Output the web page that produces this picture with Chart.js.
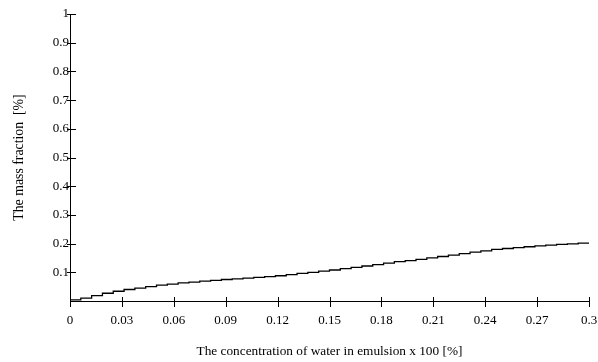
<!DOCTYPE html>
<html>
<head>
<meta charset="utf-8">
<script src="https://cdn.jsdelivr.net/npm/chart.js@4/dist/chart.umd.min.js"></script>
<style>
  html, body { margin: 0; padding: 0; background: #fff; }
  canvas { display: block; }
</style>
</head>
<body>
<canvas id="massChart" width="598" height="362"></canvas>
<script>
// water concentration (x) and mass fraction (y)
const waterConc = [
  0, 0.00625, 0.0125, 0.01875, 0.025, 0.03125, 0.0375, 0.04375, 0.05, 0.05625,
  0.0625, 0.06875, 0.075, 0.08125, 0.0875, 0.09375, 0.1, 0.10625, 0.1125, 0.11875,
  0.125, 0.13125, 0.1375, 0.14375, 0.15, 0.15625, 0.1625, 0.16875, 0.175, 0.18125,
  0.1875, 0.19375, 0.2, 0.20625, 0.2125, 0.21875, 0.225, 0.23125, 0.2375, 0.24375,
  0.25, 0.25625, 0.2625, 0.26875, 0.275, 0.28125, 0.2875, 0.29375, 0.3
];
const massFraction = [
  0.000, 0.004, 0.010, 0.019, 0.027, 0.034, 0.040, 0.045, 0.050, 0.055,
  0.059, 0.063, 0.066, 0.069, 0.072, 0.075, 0.077, 0.080, 0.082, 0.085,
  0.088, 0.092, 0.096, 0.100, 0.104, 0.108, 0.113, 0.117, 0.122, 0.127,
  0.132, 0.137, 0.141, 0.145, 0.150, 0.155, 0.160, 0.165, 0.170, 0.175,
  0.180, 0.183, 0.186, 0.189, 0.192, 0.195, 0.197, 0.199, 0.202
];
const xTitle = 'The concentration of water in emulsion x 100 [%]';
const yTitle = 'The mass fraction  [%]';

const serif = 'Liberation Serif, Times New Roman, serif';

// tick marks that cross the axis line, like the original plot
const crossTicks = {
  id: 'crossTicks',
  afterDraw(chart) {
    const ctx = chart.ctx;
    const xs = chart.scales.x, ys = chart.scales.y;
    ctx.save();
    ctx.strokeStyle = '#000';
    ctx.lineWidth = 1;
    ctx.beginPath();
    xs.ticks.forEach(t => {
      const px = Math.round(xs.getPixelForValue(t.value)) + 0.5;
      ctx.moveTo(px, ys.bottom - 4);
      ctx.lineTo(px, ys.bottom + 6);
    });
    ys.ticks.forEach(t => {
      if (t.value === 0) return;
      const py = Math.round(ys.getPixelForValue(t.value)) + 0.5;
      ctx.moveTo(xs.left - 3, py);
      ctx.lineTo(xs.left + 6, py);
    });
    ctx.stroke();
    ctx.restore();
  }
};

new Chart(document.getElementById('massChart'), {
  type: 'line',
  data: {
    datasets: [{
      data: waterConc.map((x, i) => ({ x: x, y: massFraction[i] })),
      stepped: 'after',
      borderColor: '#000',
      borderWidth: 1.3,
      pointRadius: 0,
      fill: false
    }]
  },
  options: {
    responsive: false,
    animation: false,
    devicePixelRatio: 1,
    layout: { padding: { top: 14, right: 0, left: 0, bottom: 0 } },
    plugins: { legend: { display: false }, tooltip: { enabled: false } },
    scales: {
      x: {
        type: 'linear',
        min: 0,
        max: 0.3,
        afterFit: s => { s.height = 61; s.paddingRight = 9; s.paddingLeft = 0; },
        grid: { display: false, drawTicks: false },
        border: { display: true, color: '#000', width: 1 },
        ticks: {
          stepSize: 0.03,
          autoSkip: false,
          padding: 12,
          color: '#000',
          maxRotation: 0,
          font: { family: serif, size: 13 },
          callback: v => String(+v.toFixed(2))
        },
        title: {
          display: true,
          text: xTitle,
          color: '#000',
          font: { family: serif, size: 13.3 },
          padding: { top: 14, bottom: 3 }
        }
      },
      y: {
        type: 'linear',
        min: 0,
        max: 1,
        afterFit: s => { s.width = 70; },
        grid: { display: false, drawTicks: false },
        border: { display: true, color: '#000', width: 1 },
        ticks: {
          stepSize: 0.1,
          autoSkip: false,
          padding: 1,
          color: '#000',
          font: { family: serif, size: 13 },
          callback: v => v === 0 ? '' : String(+v.toFixed(1))
        },
        title: {
          display: true,
          text: yTitle,
          color: '#000',
          font: { family: serif, size: 13.8 },
          padding: { top: 11, bottom: 0 }
        }
      }
    }
  },
  plugins: [crossTicks]
});
</script>
</body>
</html>
